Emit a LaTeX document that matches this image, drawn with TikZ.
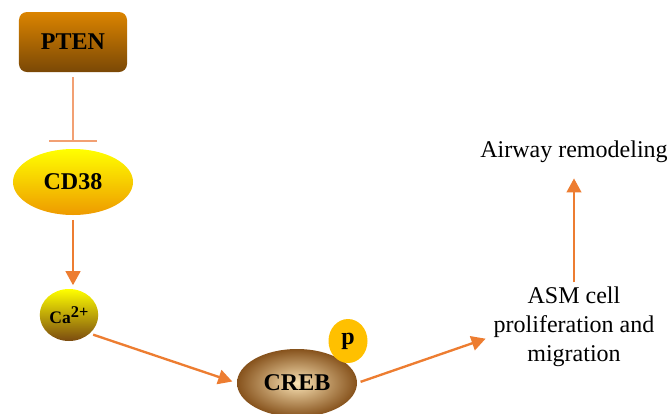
\documentclass[tikz,border=0pt]{standalone}
\usepackage{fontspec}
\setmainfont{Liberation Serif}
\usetikzlibrary{arrows.meta,shapes.geometric}

\definecolor{actcol}{HTML}{ED7D31}
\definecolor{inhcol}{HTML}{F2A073}
\definecolor{ptentop}{HTML}{DB8400}
\definecolor{ptenbot}{HTML}{7A4806}
\definecolor{cdbot}{HTML}{EE9A00}
\definecolor{camid}{HTML}{CDB800}
\definecolor{cabot}{HTML}{7A4A10}
\definecolor{crebin}{HTML}{F9E2B4}
\definecolor{crebout}{HTML}{86521C}
\definecolor{phoscol}{HTML}{FFC000}

\begin{document}
\begin{tikzpicture}[x=0.03cm,y=-0.03cm
    , every node/.style={inner sep=1pt}
    , act/.style={draw=actcol,line width=2pt,-{Triangle[width=12.5pt,length=12pt]}}
    , inh/.style={draw=inhcol,line width=1.1pt,-{Bar[width=41pt]}}
    , bold/.style={font=\fontsize{20.5}{24}\selectfont\bfseries}
    , lbl/.style={font=\fontsize{20.5}{24.6}\selectfont,align=center}
]
    \useasboundingbox (0,0) rectangle (672,413);

    % Molecules
    \node[bold,rounded corners=0.24cm,minimum width=3.24cm,minimum height=1.8cm,
        top color=ptentop,bottom color=ptenbot] (pten) at (73,42) {PTEN};
    \node[bold,ellipse,minimum width=3.6cm,minimum height=1.98cm,
        top color=yellow,bottom color=cdbot] (cd38) at (73,182) {CD38};
    \node[ellipse,minimum width=1.65cm,minimum height=1.56cm,
        top color=yellow,middle color=camid,bottom color=cabot,
        font=\fontsize{15}{16}\selectfont\bfseries] (ca) at (69,315)
        {Ca\raisebox{5pt}{\fontsize{14}{14}\selectfont 2+}};
    \node[bold,ellipse,minimum width=3.6cm,minimum height=2.04cm,
        inner color=crebin,outer color=crebout] (creb) at (297,383) {CREB};
    \node[bold,ellipse,minimum width=1.17cm,minimum height=1.32cm,
        fill=phoscol] (phos) at (348,341) {p};

    % Outcomes
    \node[lbl] (asm) at (574,327) {ASM cell\\proliferation and\\migration};
    \node[lbl] (airway) at (574,152) {Airway remodeling};

    % Links
    \draw[inh,shorten <=4pt,shorten >=6pt] (pten) -- (cd38);
    \draw[act,shorten <=4pt,shorten >=3pt] (cd38) -- (cd38 |- ca.north);
    \draw[act,shorten <=3pt,shorten >=4pt] (ca.south east) -- (creb.west);
    \draw[act,shorten <=3pt,shorten >=6pt] (creb.east) -- ([yshift=-8pt]asm.west);
    \draw[act,shorten <=3pt,shorten >=12pt] (asm.north) -- (airway.south);
\end{tikzpicture}
\end{document}
